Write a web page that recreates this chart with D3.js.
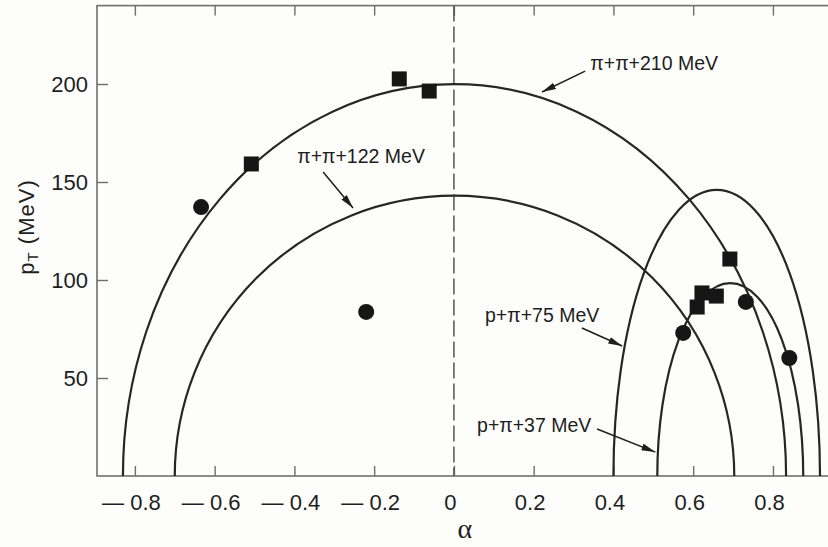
<!DOCTYPE html>
<html>
<head>
<meta charset="utf-8">
<script src="https://cdn.jsdelivr.net/npm/d3@7"></script>
<style>
  body { margin: 0; background: #fdfdfb; }
  svg { display: block; }
  text { font-family: "Liberation Sans", Arial, sans-serif; fill: #1e1e1e; }
</style>
</head>
<body>
<div id="chart"></div>
<script>
// Armenteros-type plot: alpha vs pT

// kinematic boundary curves (ellipse ends on alpha axis, top in pT)
var curveLabels = ["π+π+210 MeV", "π+π+122 MeV", "p+π+75 MeV", "p+π+37 MeV"];
var curveAlphaMin = [-0.83, -0.70, 0.40, 0.51];
var curveAlphaMax = [0.833, 0.703, 0.918, 0.876];
var curvePtMax = [200, 143, 146, 98.5];

// measured events
var squareAlpha = [-0.137, -0.062, -0.508, 0.692, 0.622, 0.658, 0.610];
var squarePt = [202.6, 196.4, 159.2, 110.7, 93.4, 91.8, 86.2];
var circleAlpha = [-0.634, -0.220, 0.575, 0.732, 0.841];
var circlePt = [137.2, 83.7, 73.0, 88.8, 60.2];

// axes
var alphaTicks = [-0.8, -0.6, -0.4, -0.2, 0, 0.2, 0.4, 0.6, 0.8];
var alphaTickLabels = ["— 0.8", "— 0.6", "— 0.4", "— 0.2", "0", "0.2", "0.4", "0.6", "0.8"];
var ptTicks = [50, 100, 150, 200];

var width = 828, height = 547;

var x = d3.scaleLinear().domain([-0.895, 1.0]).range([97, 852.7]);
var y = d3.scaleLinear().domain([0, 240]).range([476, 5.6]);

var svg = d3.select("#chart").append("svg")
    .attr("width", width)
    .attr("height", height);

svg.append("defs").append("marker")
    .attr("id", "arr")
    .attr("viewBox", "0 0 14 7")
    .attr("refX", 14).attr("refY", 3.5)
    .attr("markerWidth", 14).attr("markerHeight", 7)
    .attr("markerUnits", "userSpaceOnUse")
    .attr("orient", "auto")
    .append("path")
    .attr("d", "M0,0 L14,3.5 L0,7 z")
    .attr("fill", "#1e1e1e");

var axisColor = "#6e6e6e";

// frame
svg.append("rect")
    .attr("x", x(-0.895)).attr("y", y(240))
    .attr("width", x(1.0) - x(-0.895))
    .attr("height", y(0) - y(240))
    .attr("fill", "none")
    .attr("stroke", axisColor)
    .attr("stroke-width", 1.6);

// bottom axis, ticks pointing in
var bottomAxis = svg.append("g")
    .attr("transform", "translate(0," + y(0) + ")")
    .call(d3.axisBottom(x).tickValues(alphaTicks)
        .tickFormat(function(d, i){ return alphaTickLabels[i]; })
        .tickSizeInner(-10).tickSizeOuter(0).tickPadding(18));
bottomAxis.select(".domain").remove();
bottomAxis.selectAll("line").attr("stroke", axisColor).attr("stroke-width", 1.4);
bottomAxis.selectAll("text")
    .attr("font-size", 22)
    .attr("dx", -4)
    .attr("fill", "#1e1e1e")
    .style("font-family", "Liberation Sans, Arial, sans-serif");

// top axis, ticks only
var topAxis = svg.append("g")
    .attr("transform", "translate(0," + y(240) + ")")
    .call(d3.axisTop(x).tickValues(alphaTicks).tickFormat("")
        .tickSizeInner(-10).tickSizeOuter(0));
topAxis.select(".domain").remove();
topAxis.selectAll("line").attr("stroke", axisColor).attr("stroke-width", 1.4);

// left axis
var leftAxis = svg.append("g")
    .attr("transform", "translate(" + x(-0.895) + ",0)")
    .call(d3.axisLeft(y).tickValues(ptTicks)
        .tickSizeInner(-11).tickSizeOuter(0).tickPadding(9));
leftAxis.select(".domain").remove();
leftAxis.selectAll("line").attr("stroke", axisColor).attr("stroke-width", 1.4);
leftAxis.selectAll("text")
    .attr("font-size", 22)
    .attr("fill", "#1e1e1e")
    .style("font-family", "Liberation Sans, Arial, sans-serif");

// dashed line at alpha = 0
svg.append("line")
    .attr("x1", x(0)).attr("x2", x(0))
    .attr("y1", y(240)).attr("y2", y(0))
    .attr("stroke", "#555")
    .attr("stroke-width", 1.5)
    .attr("stroke-dasharray", "16,5");

// boundary curves as half ellipses
var curves = curveLabels.map(function(l, i){
    return {label: l, a0: curveAlphaMin[i], a1: curveAlphaMax[i], pt: curvePtMax[i]};
});

svg.append("g").selectAll("path")
    .data(curves)
    .enter()
        .append("path")
        .attr("d", function(d){
            var x0 = x(d.a0), x1 = x(d.a1);
            var rx = (x1 - x0) / 2, ry = y(0) - y(d.pt);
            return "M" + x0 + "," + y(0) + " A" + rx + "," + ry + " 0 0 1 " + x1 + "," + y(0);
        })
        .attr("fill", "none")
        .attr("stroke", "#262626")
        .attr("stroke-width", 2.2);

// labels with arrows (positions in data units)
var notes = [
    {text: curveLabels[0], tx: 0.342, ty: 207, ax0: 0.329, ay0: 206.6, ax1: 0.221, ay1: 195.9},
    {text: curveLabels[1], tx: -0.393, ty: 159.7, ax0: -0.328, ay0: 155.1, ax1: -0.253, ay1: 136.7},
    {text: curveLabels[2], tx: 0.078, ty: 78.6, ax0: 0.321, ay0: 75.5, ax1: 0.422, ay1: 66.3},
    {text: curveLabels[3], tx: 0.058, ty: 22.4, ax0: 0.359, ay0: 24.0, ax1: 0.505, ay1: 12.2}
];

var noteG = svg.append("g");
noteG.selectAll("text")
    .data(notes)
    .enter()
        .append("text")
        .attr("x", function(d){ return x(d.tx); })
        .attr("y", function(d){ return y(d.ty); })
        .attr("font-size", 19.5)
        .text(function(d){ return d.text; });

noteG.selectAll("line")
    .data(notes)
    .enter()
        .append("line")
        .attr("x1", function(d){ return x(d.ax0); })
        .attr("y1", function(d){ return y(d.ay0); })
        .attr("x2", function(d){ return x(d.ax1); })
        .attr("y2", function(d){ return y(d.ay1); })
        .attr("stroke", "#1e1e1e")
        .attr("stroke-width", 1.5)
        .attr("marker-end", "url(#arr)");

// data points
var squares = squareAlpha.map(function(a, i){ return {a: a, pt: squarePt[i]}; });
var circles = circleAlpha.map(function(a, i){ return {a: a, pt: circlePt[i]}; });

svg.append("g").selectAll("rect")
    .data(squares)
    .enter()
        .append("rect")
        .attr("x", function(d){ return x(d.a) - 7.5; })
        .attr("y", function(d){ return y(d.pt) - 7.5; })
        .attr("width", 15).attr("height", 15)
        .attr("fill", "#161616");

svg.append("g").selectAll("circle")
    .data(circles)
    .enter()
        .append("circle")
        .attr("cx", function(d){ return x(d.a); })
        .attr("cy", function(d){ return y(d.pt); })
        .attr("r", 8)
        .attr("fill", "#161616");

// axis titles
svg.append("text")
    .attr("x", x(0) + 11)
    .attr("y", 538)
    .attr("text-anchor", "middle")
    .attr("font-size", 28)
    .style("font-family", "Liberation Serif, Times New Roman, serif")
    .text("α");

var yTitle = svg.append("text")
    .attr("transform", "translate(34,227) rotate(-90)")
    .attr("text-anchor", "middle")
    .attr("font-size", 22)
    .attr("letter-spacing", 1);
yTitle.append("tspan").text("p");
yTitle.append("tspan").attr("font-size", 15).attr("dy", 4).text("T");
yTitle.append("tspan").attr("dy", -4).text(" (MeV)");
</script>
</body>
</html>
